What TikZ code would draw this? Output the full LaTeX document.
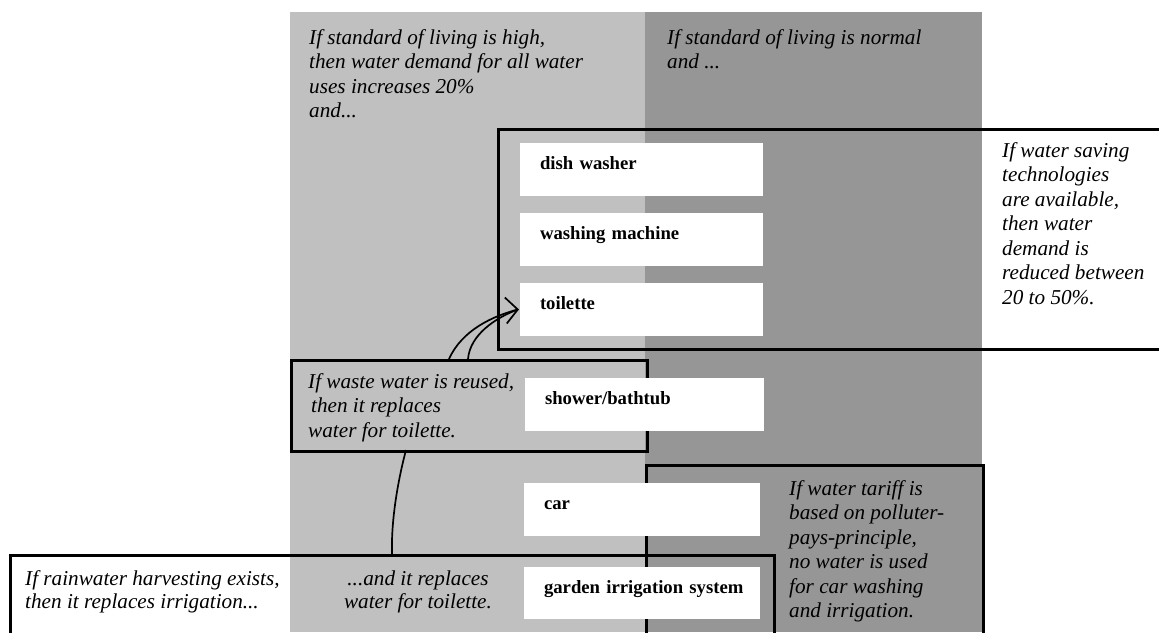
\documentclass[tikz,border=0pt]{standalone}
\usepackage{fontspec}
\setmainfont{Liberation Serif}
\definecolor{bglight}{RGB}{192,192,192}
\definecolor{bgdark}{RGB}{150,150,150}
\begin{document}
\begin{tikzpicture}[x=1pt,y=-1pt,
  % multi-line texts are placed by the baseline of their last line
  cond/.style={font=\fontsize{21.2}{24.5}\selectfont\itshape, align=left,
    anchor=base west, inner sep=0pt},
  usebox/.style={fill=white, draw=none, minimum height=53pt, inner xsep=20pt,
    inner ysep=0pt, align=left, text height=7pt, text depth=7pt,
    font=\fontsize{18.7}{22}\selectfont\bfseries},
  frame/.style={draw=black, line width=2.5pt, anchor=north west, inner sep=0pt},
  link/.style={line width=1.7pt}]
\useasboundingbox (0,0) rectangle (1159,632);
% scenario columns
\fill[bglight] (290,12) rectangle (645,632);
\fill[bgdark] (645,12) rectangle (982,632);
% condition frames
\node[frame, minimum width=678pt, minimum height=220pt] (saving) at (497,128) {};
\node[frame, minimum width=356pt, minimum height=91pt] (waste) at (290,359) {};
\node[frame, minimum width=337pt, minimum height=190pt] (tariff) at (645,464) {};
\node[frame, minimum width=764pt, minimum height=100pt] (rain) at (9,554) {};
% water uses
\node[usebox, text width=203pt] (dish) at (641.5,169.5) {dish washer};
\node[usebox, text width=203pt] (wash) at (641.5,239.5) {washing machine};
\node[usebox, text width=203pt] (toi) at (641.5,309.5) {toilette};
\node[usebox, text width=199pt] (shower) at (644.5,404.5) {shower/bathtub};
\node[usebox, text width=196pt] (car) at (642,509.5) {car};
\node[usebox, text width=196pt, minimum height=52pt] (garden) at (642,593) {\mbox{garden irrigation system}};
% condition texts
\node[cond] (high) at (309,117.5) {If standard of living is high,\\then water demand for all water\\uses increases 20\%\\and...};
\node[cond] (normal) at (667,68.5) {If standard of living is normal\\and ...};
\node[cond] (savetxt) at (1002,304) {If water saving\\technologies\\are available,\\then water\\demand is\\reduced between\\20 to 50\%.};
\node[cond] (wastetxt) at (308,437) {If waste water is reused,\\\hspace{3pt}then it replaces\\water for toilette.};
\node[cond, font=\fontsize{21.2}{23.5}\selectfont\itshape] (raintxt) at (25,608.5) {If rainwater harvesting exists,\\then it replaces irrigation...};
\node[cond, font=\fontsize{21.2}{23.5}\selectfont\itshape, align=center, anchor=base] (raintoi) at (418,608.5) {...and it replaces\\water for toilette.};
\node[cond] (tarifftxt) at (789,617.5) {If water tariff is\\based on polluter-\\pays-principle,\\no water is used\\for car washing\\and irrigation.};
% reuse links
\coordinate (w1) at (449,359);
\coordinate (w2) at (468,359);
\coordinate (w3) at (406,450);
\coordinate (r1) at (392,554);
\coordinate (tip) at ([xshift=-2pt]toi.west);
\draw[link] (w1) .. controls (462,330) and (493,316) .. (tip);
\draw[link] (w2) .. controls (470,335) and (495,318) .. (tip);
\draw[link] ([shift={(-13,-12)}]tip) -- (tip) -- ([shift={(-11,14)}]tip);
\draw[link] (r1) .. controls (391,520) and (398,480) .. (w3);
\end{tikzpicture}
\end{document}
